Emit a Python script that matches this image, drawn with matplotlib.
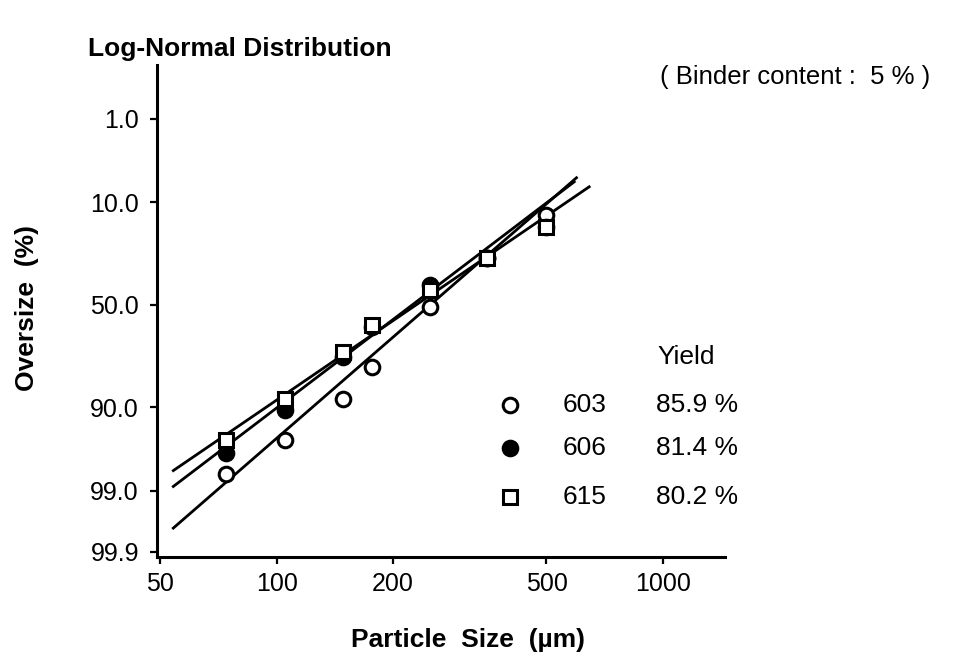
import numpy as np
import matplotlib
matplotlib.use("Agg")
import matplotlib.pyplot as plt
from statistics import NormalDist

plt.rcParams['font.family'] = ['Liberation Sans', 'DejaVu Sans']

# ---------------- data ----------------
sizes = [74, 105, 149, 177, 250, 350, 500]          # particle size (um)
over_603 = [98.3, 95.5, 88.2, 78.1, 51.0, 27.8, 13.0]   # oversize (%)
over_606 = [96.8, 90.5, 74.2, 60.8, 40.1, 27.8, 16.4]
over_615 = [95.5, 88.0, 72.2, 59.9, 42.6, 27.8, 16.5]

# fitted lines (end points)
line_603_x = [54, 598]
line_603_y = [99.74, 5.6]
line_606_x = [54, 590]
line_606_y = [98.85, 6.2]
line_615_x = [54, 645]
line_615_y = [98.1, 7.0]

samples = ["603", "606", "615"]
yields = ["85.9 %", "81.4 %", "80.2 %"]

xticks = [50, 100, 200, 500, 1000]
xtick_labels = ["50", "100", "200", "500", "1000"]
yticks = [1.0, 10.0, 50.0, 90.0, 99.0, 99.9]
ytick_labels = ["1.0", "10.0", "50.0", "90.0", "99.0", "99.9"]

# ---------------- probability scale ----------------
_nd = NormalDist()
_ppf = np.vectorize(lambda p: _nd.inv_cdf(min(max(p / 100.0, 1e-9), 1 - 1e-9)), otypes=[float])
_cdf = np.vectorize(lambda z: _nd.cdf(z) * 100.0, otypes=[float])


def fwd(p):
    return _ppf(np.asarray(p, dtype=float))


def inv(z):
    return _cdf(np.asarray(z, dtype=float))


W, H = 962, 665
fig = plt.figure(figsize=(W / 100, H / 100), dpi=100)
ax = fig.add_axes([157 / W, 1 - 557 / H, (725 - 157) / W, (557 - 65) / H])

ax.set_xscale('log')
ax.set_yscale('function', functions=(fwd, inv))
ax.set_xlim(49, 1450)
ax.set_ylim(99.92, 0.135)

lw = 2.0
ax.plot(line_603_x, line_603_y, color='black', lw=lw, zorder=2)
ax.plot(line_606_x, line_606_y, color='black', lw=lw, zorder=2)
ax.plot(line_615_x, line_615_y, color='black', lw=lw, zorder=2)

ms = 10.5
mew = 2.2
ax.plot(sizes, over_603, 'o', ms=ms, mfc='white', mec='black', mew=mew, zorder=3)
ax.plot(sizes, over_606, 'o', ms=ms, mfc='black', mec='black', mew=mew, zorder=4)
ax.plot(sizes, over_615, 's', ms=ms - 1, mfc='white', mec='black', mew=mew, zorder=5)

for s in ['top', 'right']:
    ax.spines[s].set_visible(False)
for s in ['left', 'bottom']:
    ax.spines[s].set_linewidth(2.2)

ax.set_xticks(xticks)
ax.set_xticklabels(xtick_labels)
ax.set_yticks(yticks)
ax.set_yticklabels(ytick_labels)
ax.xaxis.set_minor_locator(matplotlib.ticker.NullLocator())
ax.yaxis.set_minor_locator(matplotlib.ticker.NullLocator())
ax.tick_params(axis='both', direction='out', length=5, width=1.6, labelsize=18, colors='black')
ax.tick_params(axis='y', pad=8)
ax.tick_params(axis='x', pad=6)

# axis labels
fig.text(468 / W, 1 - 640 / H, "Particle  Size  (µm)", ha='center', va='center',
         fontsize=19, fontweight='bold')
fig.text(27 / W, 1 - 308 / H, "Oversize  (%)", ha='center', va='center',
         fontsize=19, fontweight='bold', rotation=90)

# title and note
fig.text(88 / W, 1 - 49 / H, "Log-Normal Distribution", ha='left', va='center',
         fontsize=19, fontweight='bold')
fig.text(660 / W, 1 - 77 / H, "( Binder content :  5 % )", ha='left', va='center',
         fontsize=18.5)

# custom legend
fig.text(657 / W, 1 - 357 / H, "Yield", ha='left', va='center', fontsize=19)
leg_y = [405, 448, 497]
styles = [dict(marker='o', mfc='white'), dict(marker='o', mfc='black'), dict(marker='s', mfc='white')]
for yy, name, yl, st in zip(leg_y, samples, yields, styles):
    fig.lines.append(matplotlib.lines.Line2D([510 / W], [1 - yy / H], transform=fig.transFigure,
                                             marker=st['marker'],
                                             ms=ms if st['marker'] == 'o' else ms - 1,
                                             mfc=st['mfc'], mec='black', mew=mew, ls='none'))
    fig.text(563 / W, 1 - yy / H, name, ha='left', va='center', fontsize=19)
    fig.text(656 / W, 1 - yy / H, yl, ha='left', va='center', fontsize=19)

fig.savefig("out.png", dpi=100)
